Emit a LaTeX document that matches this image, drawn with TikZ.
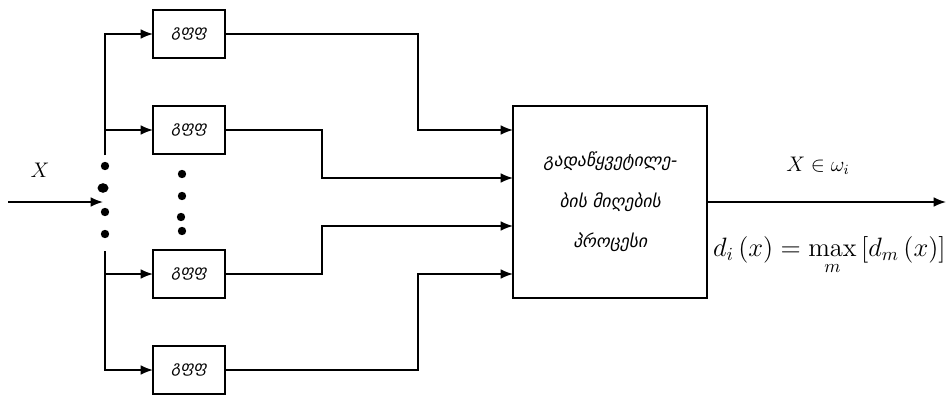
\documentclass[tikz,border=0pt]{standalone}
\usepackage{fontspec}
\usepackage{amsmath}
\usetikzlibrary{calc}
\usetikzlibrary{arrows.meta}
\newfontfamily\geofont[FakeSlant=0.2]{DejaVu Sans}
\tikzset{%
    block/.style={inner sep=0pt,outer sep=0pt,shape=rectangle,draw,line width=0.9pt},
    dfbox/.style={block,minimum width=1.44cm,minimum height=0.96cm,font=\geofont\small},
    conn/.style={->,>={Latex[length=7pt,width=5.5pt]},line width=0.9pt},
}

\begin{document}
\begin{tikzpicture}[x=0.02cm,y=-0.02cm]
        \useasboundingbox (0,0) rectangle (949,395);

        \node [dfbox] (d1) at (189,34) {გფფ};
        \node [dfbox] (d2) at (189,130) {გფფ};
        \node [dfbox] (d3) at (189,274) {გფფ};
        \node [dfbox] (d4) at (189,370) {გფფ};
        \node [block,minimum width=3.88cm,minimum height=3.84cm,align=center,
               font=\geofont\normalsize] (proc) at (610,202)
               {გადაწყვეტილე-\\[11pt]ბის მიღების\\[11pt]პროცესი};

        \coordinate (xin) at (8,202);
        \coordinate (xend) at (103,202);
        \coordinate (bustop) at (105,155);
        \coordinate (busbot) at (105,251);
        \coordinate (in1) at ($(proc.west)+(0,-72)$);
        \coordinate (in2) at ($(proc.west)+(0,-24)$);
        \coordinate (in3) at ($(proc.west)+(0,24)$);
        \coordinate (in4) at ($(proc.west)+(0,72)$);
        \coordinate (yout) at (946,202);

        % input and fan out
        \draw [conn] (xin) -- (xend);
        \node [font=\large] (xlbl) at (40,170) {$X$};
        \draw [conn] (bustop) |- (d1.west);
        \draw [conn] (bustop) |- (d2.west);
        \draw [conn] (busbot) |- (d3.west);
        \draw [conn] (busbot) |- (d4.west);

        \fill (105,166) circle [radius=4.2];
        \fill (103,188) ellipse [x radius=5.5,y radius=4.8];
        \fill (105,212) circle [radius=4.2];
        \fill (105,234) circle [radius=4.2];

        \fill (182,174) circle [radius=4.2];
        \fill (182,196) circle [radius=4.2];
        \fill (181,217) circle [radius=4.2];
        \fill (182,231) circle [radius=4.2];

        % into the decision block
        \draw [conn] (d1.east) -- ++(193,0) |- (in1);
        \draw [conn] (d2.east) -- ++(97,0) |- (in2);
        \draw [conn] (d3.east) -- ++(97,0) |- (in3);
        \draw [conn] (d4.east) -- ++(193,0) |- (in4);

        % output
        \draw [conn] (proc.east) -- (yout);
        \node [font=\large] (cls) at (818,166) {$X\in\omega_i$};
        \node [font=\Large,inner sep=0pt,anchor=east] (rule) at (946,256)
              {\scalebox{1.05}{$d_i\left(x\right)=\max\limits_m\left[d_m\left(x\right)\right]$}};
    \end{tikzpicture}
\end{document}
